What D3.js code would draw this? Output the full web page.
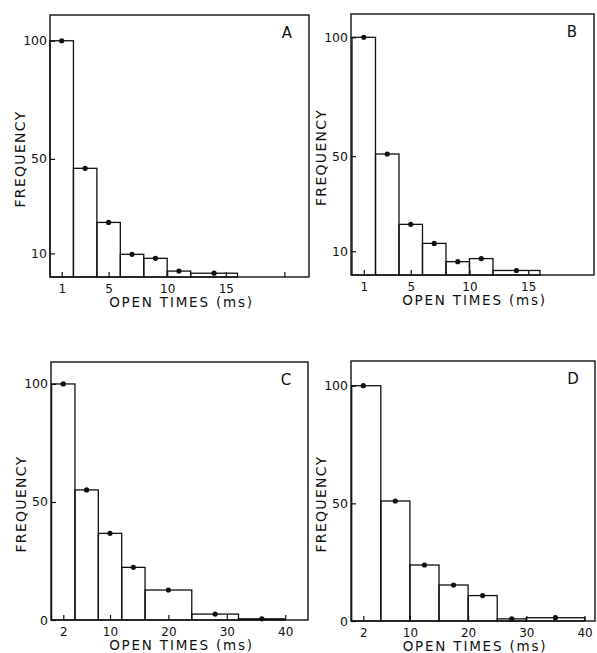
<!DOCTYPE html>
<html>
<head>
<meta charset="utf-8">
<script src="https://cdn.jsdelivr.net/npm/d3@7"></script>
<style>
  body { margin: 0; background: #fff; }
  svg text { font-family: "DejaVu Sans", sans-serif; fill: #111; }
</style>
</head>
<body>
<script>
// Open time histograms, four panels (A-D)
const width = 597, height = 653;

// bin edges (ms), bar heights (frequency) and dot positions per panel
const edgesA = [0, 2, 4, 6, 8, 10, 12, 16];
const freqA  = [100, 46, 23.1, 9.6, 7.9, 2.5, 1.6];
const dotsA  = [1, 3, 5, 7, 9, 11, 14];

const edgesB = [0, 2, 4, 6, 8, 10, 12, 16];
const freqB  = [100, 50.9, 21.3, 13.3, 5.6, 6.9, 1.9];
const dotsB  = [1, 3, 5, 7, 9, 11, 14];

const edgesC = [0, 4, 8, 12, 16, 24, 32, 40];
const freqC  = [100, 55.1, 36.7, 22.3, 12.7, 2.5, 0.5];
const dotsC  = [2, 6, 10, 14, 20, 28, 36];

const edgesD = [0, 5, 10, 15, 20, 25, 30, 40];
const freqD  = [100, 51, 23.8, 15.3, 10.8, 0.9, 1.4];
const dotsD  = [2, 7.5, 12.5, 17.5, 22.5, 27.5, 35];

// tick values
const xTicksAB = [1, 5, 10, 15];
const xTicksCD = [2, 10, 20, 30, 40];
const yTicksAB = [10, 50, 100];
const yTicksCD = [0, 50, 100];
const extraTickA = [20]; // unlabeled tick mark on panel A

const xLabel = "OPEN TIMES (ms)";
const yLabel = "FREQUENCY";

const panels = [
  { name: "A", edges: edgesA, freq: freqA, dots: dotsA, xTicks: xTicksAB, blank: extraTickA, yTicks: yTicksAB,
    frame: { l: 50, r: 309, t: 15, b: 277 }, x0: 50, xMax: 22.1, yMax: 110.9 },
  { name: "B", edges: edgesB, freq: freqB, dots: dotsB, xTicks: xTicksAB, blank: [], yTicks: yTicksAB,
    frame: { l: 351, r: 594, t: 14, b: 275 }, x0: 352, xMax: 20.6, yMax: 109.8 },
  { name: "C", edges: edgesC, freq: freqC, dots: dotsC, xTicks: xTicksCD, blank: [], yTicks: yTicksCD,
    frame: { l: 51, r: 308, t: 362, b: 620 }, x0: 51.6, xMax: 43.9, yMax: 109.3 },
  { name: "D", edges: edgesD, freq: freqD, dots: dotsD, xTicks: xTicksCD, blank: [], yTicks: yTicksCD,
    frame: { l: 351, r: 595, t: 361, b: 621 }, x0: 351.7, xMax: 41.8, yMax: 110.5 }
];

const svg = d3.select("body").append("svg")
    .attr("width", width)
    .attr("height", height);

panels.forEach(p => {
  const f = p.frame;
  const x = d3.scaleLinear().domain([0, p.xMax]).range([p.x0, f.r]);
  const y = d3.scaleLinear().domain([0, p.yMax]).range([f.b, f.t]);
  const g = svg.append("g");

  const bins = p.freq.map((v, i) => ({ x0: p.edges[i], x1: p.edges[i + 1], v: v, dot: p.dots[i] }));

  // bars
  g.append("g")
    .selectAll("rect")
    .data(bins)
    .enter().append("rect")
    .attr("x", d => x(d.x0))
    .attr("y", d => y(d.v))
    .attr("width", d => x(d.x1) - x(d.x0))
    .attr("height", d => y(0) - y(d.v))
    .attr("fill", "none")
    .attr("stroke", "#111")
    .attr("stroke-width", 1.3);

  // dots
  g.append("g")
    .selectAll("circle")
    .data(bins)
    .enter().append("circle")
    .attr("cx", d => x(d.dot))
    .attr("cy", d => y(d.v))
    .attr("r", 2.6)
    .attr("fill", "#111");

  // axes with inward ticks
  const xAxis = d3.axisBottom(x)
    .tickValues(p.xTicks.concat(p.blank))
    .tickFormat(d => p.blank.includes(d) ? "" : d)
    .tickSizeInner(-5).tickSizeOuter(0).tickPadding(7);
  g.append("g")
    .attr("transform", `translate(0,${f.b})`)
    .call(xAxis)
    .call(a => a.select(".domain").remove())
    .call(a => a.selectAll("line").attr("stroke", "#111").attr("stroke-width", 1.2))
    .call(a => a.selectAll("text").attr("font-size", 12).attr("font-family", "DejaVu Sans").attr("fill", "#111"));

  const yAxis = d3.axisLeft(y)
    .tickValues(p.yTicks)
    .tickSizeInner(-5).tickSizeOuter(0).tickPadding(3);
  g.append("g")
    .attr("transform", `translate(${f.l},0)`)
    .call(yAxis)
    .call(a => a.select(".domain").remove())
    .call(a => a.selectAll("line").attr("stroke", "#111").attr("stroke-width", 1.2))
    .call(a => a.selectAll("text").attr("font-size", 12.5).attr("font-family", "DejaVu Sans").attr("fill", "#111"));

  // frame
  g.append("rect")
    .attr("x", f.l).attr("y", f.t)
    .attr("width", f.r - f.l).attr("height", f.b - f.t)
    .attr("fill", "none")
    .attr("stroke", "#111")
    .attr("stroke-width", 1.4);

  // panel letter
  g.append("text")
    .attr("x", f.r - 22)
    .attr("y", f.t + 18)
    .attr("dy", "0.35em")
    .attr("text-anchor", "middle")
    .attr("font-size", 15)
    .text(p.name);

  // axis titles
  g.append("text")
    .attr("x", (f.l + f.r) / 2 + 2)
    .attr("y", f.b + 30)
    .attr("text-anchor", "middle")
    .attr("font-size", 13.5)
    .attr("letter-spacing", 1.8)
    .text(xLabel);

  g.append("text")
    .attr("transform", `translate(${f.l - 25},${(f.t + f.b) / 2 + 13}) rotate(-90)`)
    .attr("text-anchor", "middle")
    .attr("font-size", 14)
    .attr("letter-spacing", 1.3)
    .text(yLabel);
});
</script>
</body>
</html>
